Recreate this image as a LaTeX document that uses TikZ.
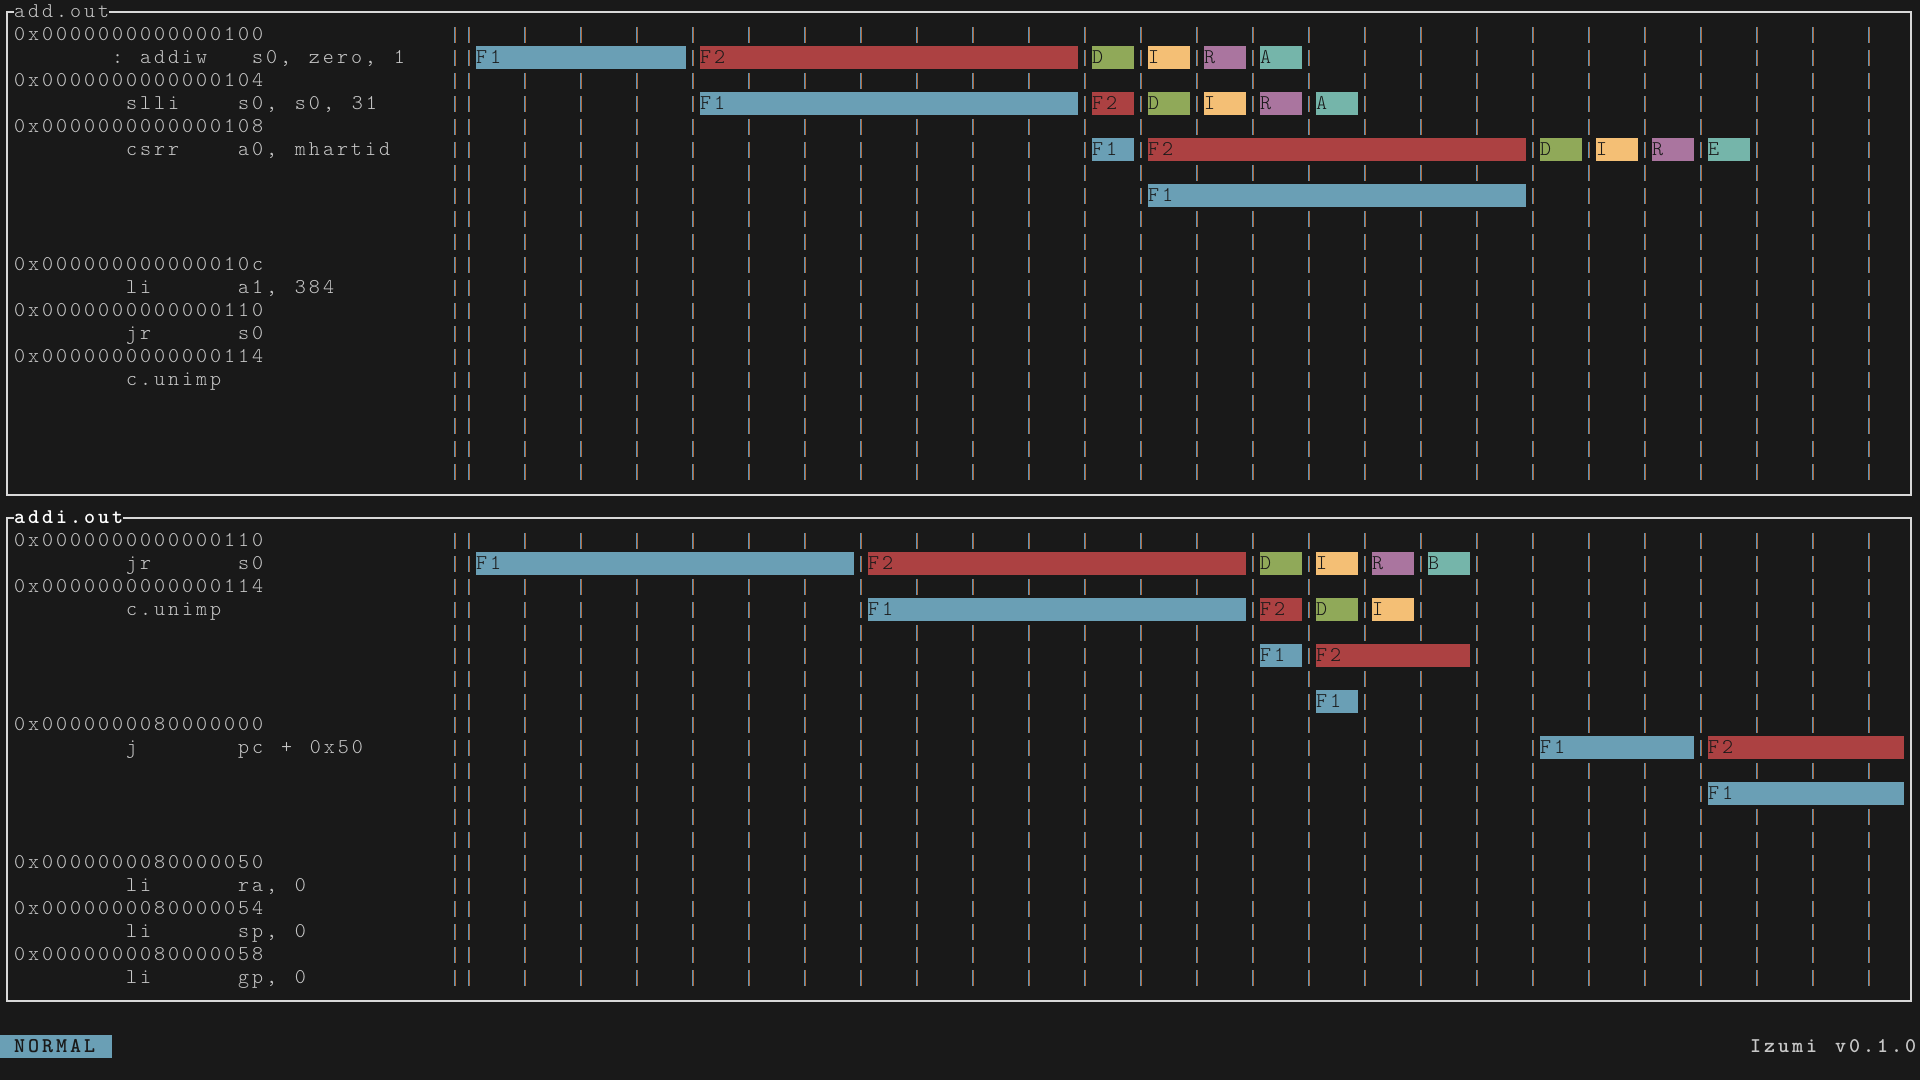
\documentclass[tikz,border=0pt]{standalone}
\usepackage{fontspec}
\setmonofont{lmmonolt10-regular}[Extension=.otf, BoldFont=lmmonolt10-bold, LetterSpace=14.17, WordSpace=1.2698]
\usepackage{tikz}
\definecolor{termbg}{HTML}{191919}
\definecolor{termfg}{HTML}{C8C8C8}
\definecolor{frame}{HTML}{D8D8D8}
\definecolor{sblue}{HTML}{6A9FB5}
\definecolor{sred}{HTML}{AC4142}
\definecolor{sgreen}{HTML}{90A959}
\definecolor{syellow}{HTML}{F4BF75}
\definecolor{spurple}{HTML}{AA759F}
\definecolor{steal}{HTML}{75B5AA}
\definecolor{tickb}{HTML}{5A93B8}
\definecolor{ticko}{HTML}{B0693A}

\begin{document}
\begin{tikzpicture}[x=14pt, y=-23pt,
  txt/.style={anchor=base west, inner sep=0pt, text=termfg, font=\ttfamily\fontsize{21}{23}\selectfont},
  bold/.style={txt, font=\ttfamily\bfseries\fontsize{21}{23}\selectfont},
  lab/.style={txt, text=termbg},
  panel/.style={draw=frame, line width=2pt}]
\useasboundingbox (0,0) rectangle (137.142857,46.956522);
\fill[termbg] (0,0) rectangle (137.142857,46.956522);
\foreach \t/\b in {0/21, 22/43}
\draw[panel] (0.5,\t+0.5) rectangle (136.5,\b+0.5);
\node[txt, fill=termbg] (add) at (1,0.77) {add.out};
\node[bold, fill=termbg, text=white] (addi) at (1,22.77) {addi.out};
\foreach \r in {1,...,20,23,24,...,42}
\foreach \c in {32,33,37,41,...,133}
{
\draw[tickb, line width=1pt] (\c+0.465,\r+0.19) -- (\c+0.465,\r+0.88);
\draw[ticko, line width=1pt] (\c+0.535,\r+0.19) -- (\c+0.535,\r+0.88);
}
\foreach \r/\c/\t in {1/1/0x0000000000000100, 2/8/:, 2/10/addiw, 2/18/{s0, zero, 1},
  3/1/0x0000000000000104, 4/9/slli, 4/17/{s0, s0, 31},
  5/1/0x0000000000000108, 6/9/csrr, 6/17/{a0, mhartid},
  11/1/0x000000000000010c, 12/9/li, 12/17/{a1, 384},
  13/1/0x0000000000000110, 14/9/jr, 14/17/s0,
  15/1/0x0000000000000114, 16/9/c.unimp,
  23/1/0x0000000000000110, 24/9/jr, 24/17/s0,
  25/1/0x0000000000000114, 26/9/c.unimp,
  31/1/0x0000000080000000, 32/9/j, 32/17/{pc + 0x50},
  37/1/0x0000000080000050, 38/9/li, 38/17/{ra, 0},
  39/1/0x0000000080000054, 40/9/li, 40/17/{sp, 0},
  41/1/0x0000000080000058, 42/9/li, 42/17/{gp, 0}}
\node[txt] (t-\r-\c) at (\c,\r+0.77) {\t};
\foreach \r/\a/\b/\s/\cl in {2/0/3/F1/sblue, 2/4/10/F2/sred, 2/11/11/D/sgreen, 2/12/12/I/syellow, 2/13/13/R/spurple, 2/14/14/A/steal,
  4/4/10/F1/sblue, 4/11/11/F2/sred, 4/12/12/D/sgreen, 4/13/13/I/syellow, 4/14/14/R/spurple, 4/15/15/A/steal,
  6/11/11/F1/sblue, 6/12/18/F2/sred, 6/19/19/D/sgreen, 6/20/20/I/syellow, 6/21/21/R/spurple, 6/22/22/E/steal,
  8/12/18/F1/sblue,
  24/0/6/F1/sblue, 24/7/13/F2/sred, 24/14/14/D/sgreen, 24/15/15/I/syellow, 24/16/16/R/spurple, 24/17/17/B/steal,
  26/7/13/F1/sblue, 26/14/14/F2/sred, 26/15/15/D/sgreen, 26/16/16/I/syellow,
  28/14/14/F1/sblue, 28/15/17/F2/sred,
  30/15/15/F1/sblue,
  32/19/21/F1/sblue, 32/22/25/F2/sred,
  34/22/25/F1/sblue}
{
\fill[\cl] ({34+4*\a},\r) rectangle ({min(37+4*\b,136)},\r+1);
\node[lab] (bar-\r-\a) at ({34+4*\a},\r+0.77) {\s};
}
\fill[sblue] (0,45) rectangle (8,46);
\node[bold, text=termbg] (mode) at (1,45.77) {NORMAL};
\node[bold] (ver) at (125,45.77) {Izumi v0.1.0};
\end{tikzpicture}
\end{document}
